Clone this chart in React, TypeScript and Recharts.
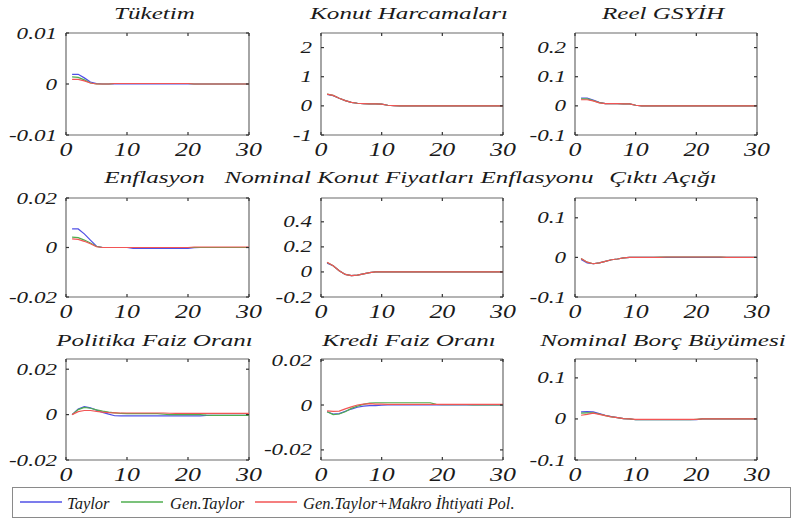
import React from 'react';
import { LineChart, Line, XAxis, YAxis, CartesianGrid } from 'recharts';

// ---------- data ----------
const periods = [1, 2, 3, 4, 5, 6, 7, 8, 9, 10, 11, 12, 13, 14, 15, 16, 17, 18, 19, 20, 21, 22, 23, 24, 25, 26, 27, 28, 29, 30];
const xTicks = [0, 10, 20, 30];
const seriesNames = ['Taylor', 'Gen.Taylor', 'Gen.Taylor+Makro İhtiyati Pol.'];
const seriesColors = ['#5050e6', '#4fae4f', '#f25555'];

const titles = [
  'Tüketim', 'Konut Harcamaları', 'Reel GSYİH',
  'Enflasyon', 'Nominal Konut Fiyatları Enflasyonu', 'Çıktı Açığı',
  'Politika Faiz Oranı', 'Kredi Faiz Oranı', 'Nominal Borç Büyümesi',
];

// Tüketim
const tuketimTaylor = [0.0019, 0.0019, 0.0012, 0.0004, 0.0001, 0, 0, 0, 0, 0, 0, 0, 0, 0, 0, 0, 0, 0, 0, 0, 0, 0, 0, 0, 0, 0, 0, 0, 0, 0];
const tuketimGen = [0.0014, 0.0013, 0.0008, 0.0002, 0, 0, 0, 0.0001, 0.0001, 0.0001, 0.0001, 0.0001, 0.0001, 0.0001, 0.0001, 0.0001, 0.0001, 0.0001, 0.0001, 0.0001, 0, 0, 0, 0, 0, 0, 0, 0, 0, 0];
const tuketimMakro = [0.0009, 0.0009, 0.0006, 0.0002, 0, 0, 0, 0.0001, 0.0001, 0.0001, 0.0001, 0.0001, 0.0001, 0.0001, 0.0001, 0.0001, 0.0001, 0.0001, 0.0001, 0.0001, 0, 0, 0, 0, 0, 0, 0, 0, 0, 0];

// Konut Harcamaları
const konutTaylor = [0.39, 0.35, 0.26, 0.18, 0.12, 0.09, 0.08, 0.07, 0.07, 0.06, 0.02, 0.01, 0, 0, 0, 0, 0, 0, 0, 0, 0, 0, 0, 0, 0, 0, 0, 0, 0, 0];
const konutGen = [0.4, 0.36, 0.26, 0.18, 0.12, 0.09, 0.08, 0.07, 0.07, 0.06, 0.02, 0.01, 0, 0, 0, 0, 0, 0, 0, 0, 0, 0, 0, 0, 0, 0, 0, 0, 0, 0];
const konutMakro = [0.4, 0.36, 0.26, 0.18, 0.12, 0.09, 0.08, 0.07, 0.07, 0.06, 0.02, 0.01, 0, 0, 0, 0, 0, 0, 0, 0, 0, 0, 0, 0, 0, 0, 0, 0, 0, 0];

// Reel GSYİH
const gsyihTaylor = [0.027, 0.027, 0.02, 0.012, 0.008, 0.008, 0.008, 0.007, 0.007, 0.002, 0, 0, 0, 0, 0, 0, 0, 0, 0, 0, 0, 0, 0, 0, 0, 0, 0, 0, 0, 0];
const gsyihGen = [0.024, 0.024, 0.018, 0.011, 0.008, 0.008, 0.008, 0.007, 0.007, 0.002, 0, 0, 0, 0, 0, 0, 0, 0, 0, 0, 0, 0, 0, 0, 0, 0, 0, 0, 0, 0];
const gsyihMakro = [0.021, 0.021, 0.017, 0.01, 0.008, 0.008, 0.008, 0.007, 0.007, 0.002, 0, 0, 0, 0, 0, 0, 0, 0, 0, 0, 0, 0, 0, 0, 0, 0, 0, 0, 0, 0];

// Enflasyon
const enfTaylor = [0.0075, 0.0075, 0.0055, 0.003, 0.0005, 0, 0, 0, 0, 0, -0.0004, -0.0004, -0.0004, -0.0004, -0.0004, -0.0004, -0.0004, -0.0004, -0.0004, -0.0004, -0.0001, 0, 0, 0, 0, 0, 0, 0, 0, 0];
const enfGen = [0.0042, 0.004, 0.003, 0.0018, 0.0004, 0, 0, 0, 0, 0, 0, 0, 0, 0, 0, 0, 0, 0, 0, 0, 0, 0, 0, 0, 0, 0, 0, 0, 0, 0];
const enfMakro = [0.0035, 0.0033, 0.0025, 0.0015, 0.0003, 0, 0, 0, 0, 0, 0, 0, 0, 0, 0, 0, 0, 0, 0, 0, 0.0002, 0.0002, 0.0002, 0.0002, 0.0002, 0.0002, 0.0002, 0.0002, 0.0002, 0.0002];

// Nominal Konut Fiyatları Enflasyonu
const nkfTaylor = [0.07, 0.05, 0.01, -0.02, -0.03, -0.025, -0.015, -0.005, 0, 0, 0, 0, 0, 0, 0, 0, 0, 0, 0, 0, 0, 0, 0, 0, 0, 0, 0, 0, 0, 0];
const nkfGen = [0.075, 0.05, 0.01, -0.02, -0.03, -0.025, -0.015, -0.005, 0, 0, 0, 0, 0, 0, 0, 0, 0, 0, 0, 0, 0, 0, 0, 0, 0, 0, 0, 0, 0, 0];
const nkfMakro = [0.077, 0.05, 0.01, -0.02, -0.03, -0.025, -0.015, -0.005, 0, 0, 0, 0, 0, 0, 0, 0, 0, 0, 0, 0, 0, 0, 0, 0, 0, 0, 0, 0, 0, 0];

// Çıktı Açığı
const ciktiTaylor = [-0.005, -0.014, -0.016, -0.014, -0.01, -0.006, -0.004, -0.001, 0, 0, 0, 0, 0, 0, 0, 0, 0, 0, 0, 0, 0, 0, 0, 0, 0, 0, 0, 0, 0, 0];
const ciktiGen = [-0.003, -0.012, -0.016, -0.014, -0.01, -0.006, -0.004, -0.001, 0, 0, 0, 0, 0, 0.001, 0.001, 0.001, 0.001, 0.001, 0.001, 0.001, 0.001, 0.001, 0.001, 0.001, 0, 0, 0, 0, 0, 0];
const ciktiMakro = [-0.003, -0.012, -0.016, -0.014, -0.01, -0.006, -0.004, -0.001, 0, 0, 0, 0, 0, 0, 0.001, 0.001, 0.001, 0.001, 0.001, 0.001, 0.001, 0.001, 0.001, 0.001, 0, 0, 0, 0, 0, 0];

// Politika Faiz Oranı
const polTaylor = [0, 0.0025, 0.0035, 0.003, 0.002, 0.001, 0.0002, -0.0005, -0.0006, -0.0006, -0.0006, -0.0006, -0.0006, -0.0006, -0.0006, -0.0006, -0.0006, -0.0006, -0.0006, -0.0006, -0.0006, -0.0006, -0.0003, -0.0003, -0.0003, -0.0003, -0.0003, -0.0003, -0.0003, -0.0003];
const polGen = [0, 0.0022, 0.0032, 0.0028, 0.0021, 0.0015, 0.0011, 0.0008, 0.0005, 0.0004, 0.0004, 0.0004, 0.0004, 0.0004, 0.0004, 0.0002, 0, 0, 0, 0, 0, 0, -0.0002, -0.0003, -0.0003, -0.0003, -0.0003, -0.0003, -0.0003, -0.0003];
const polMakro = [0, 0.0013, 0.0018, 0.0018, 0.0014, 0.0011, 0.0009, 0.0008, 0.0007, 0.0007, 0.0007, 0.0007, 0.0007, 0.0007, 0.0007, 0.0007, 0.0006, 0.0005, 0.0005, 0.0005, 0.0005, 0.0005, 0.0005, 0.0005, 0.0005, 0.0005, 0.0005, 0.0005, 0.0005, 0.0005];

// Kredi Faiz Oranı
const krediTaylor = [-0.003, -0.004, -0.0038, -0.0028, -0.0018, -0.001, -0.0005, -0.0003, -0.0003, -0.0001, 0, 0, 0, 0, 0, 0, 0, 0, 0, 0, 0, 0, 0, 0, 0, 0, 0, 0, 0, 0];
const krediGen = [-0.003, -0.0043, -0.004, -0.003, -0.0015, -0.0005, 0.0003, 0.0008, 0.001, 0.001, 0.001, 0.001, 0.001, 0.001, 0.001, 0.001, 0.001, 0.001, 0.0003, 0.0002, 0.0002, 0.0002, 0.0002, 0.0002, 0.0001, 0, 0, 0, 0, 0];
const krediMakro = [-0.0026, -0.0028, -0.0027, -0.0017, -0.0008, 0, 0.0004, 0.0006, 0.0004, 0.0004, 0.0003, 0.0003, 0.0003, 0.0003, 0.0003, 0.0003, 0.0003, 0.0003, 0.0003, 0.0003, 0.0003, 0.0003, 0.0003, 0.0003, 0.0003, 0.0003, 0.0003, 0.0003, 0.0003, 0.0003];

// Nominal Borç Büyümesi
const borcTaylor = [0.017, 0.018, 0.017, 0.013, 0.009, 0.006, 0.003, 0.001, 0, -0.002, -0.002, -0.002, -0.002, -0.002, -0.002, -0.002, -0.002, -0.002, -0.002, -0.002, 0, 0, 0, 0, 0, 0, 0, 0, 0, 0];
const borcGen = [0.014, 0.015, 0.015, 0.012, 0.008, 0.005, 0.003, 0.001, 0, -0.002, -0.002, -0.002, -0.002, -0.002, -0.002, -0.002, -0.002, -0.002, -0.002, -0.001, 0, 0, 0, 0, 0, 0, 0, 0, 0, 0];
const borcMakro = [0.009, 0.011, 0.014, 0.011, 0.008, 0.005, 0.003, 0.001, 0, -0.001, -0.001, -0.001, -0.001, -0.001, -0.001, -0.001, -0.001, -0.001, -0.001, -0.001, 0, 0, 0, 0, 0, 0, 0, 0, 0, 0];

// y axis scales and ticks
const yDomains: [number, number][] = [
  [-0.01, 0.01], [-1, 2.5], [-0.1, 0.25],
  [-0.02, 0.02], [-0.2, 0.59], [-0.1, 0.15],
  [-0.02, 0.0245], [-0.0245, 0.0205], [-0.1, 0.146],
];
const yTicksList = [
  [-0.01, 0, 0.01], [-1, 0, 1, 2], [-0.1, 0, 0.1, 0.2],
  [-0.02, 0, 0.02], [-0.2, 0, 0.2, 0.4], [-0.1, 0, 0.1],
  [-0.02, 0, 0.02], [-0.02, 0, 0.02], [-0.1, 0, 0.1],
];
const seriesPerPanel = [
  [tuketimTaylor, tuketimGen, tuketimMakro],
  [konutTaylor, konutGen, konutMakro],
  [gsyihTaylor, gsyihGen, gsyihMakro],
  [enfTaylor, enfGen, enfMakro],
  [nkfTaylor, nkfGen, nkfMakro],
  [ciktiTaylor, ciktiGen, ciktiMakro],
  [polTaylor, polGen, polMakro],
  [krediTaylor, krediGen, krediMakro],
  [borcTaylor, borcGen, borcMakro],
];

// ---------- layout (styling) ----------
const colLeft = [66, 321, 575];
const colWidth = [183, 182, 182];
const rowTop = [33, 198, 359];
const rowHeight = [102, 99, 101];
const titleBaseline = [18.5, 183, 346];
const FONT = "'Liberation Serif', 'Times New Roman', Times, serif";
const FRAME = '#6a6a6a';
const TEXT = '#1a1a1a';
const AX_L = 70;
const M_TOP = 10;
const M_RIGHT = 18;
const X_H = 30;

const txtStyle = (size: number): React.CSSProperties => ({
  fontFamily: FONT,
  fontStyle: 'italic',
  fontWeight: 'normal',
  fontSize: size,
});

const fmt = (v: number) => String(v);

function makeXTick(plotH: number) {
  return (props: any) => {
    const { x, y, payload } = props;
    return (
      <g>
        <line x1={x} x2={x} y1={y} y2={y - 3} stroke="#333" strokeWidth={1.2} />
        <line x1={x} x2={x} y1={y - plotH} y2={y - plotH + 3} stroke="#333" strokeWidth={1.2} />
        <text
          transform={`translate(${x},${y + 21}) scale(1.4,1)`}
          textAnchor="middle"
          style={txtStyle(18.5)}
          fill={TEXT}
        >
          {fmt(payload.value)}
        </text>
      </g>
    );
  };
}

function makeYTick(plotW: number) {
  return (props: any) => {
    const { x, y, payload } = props;
    return (
      <g>
        <line x1={x} x2={x + 3} y1={y} y2={y} stroke="#333" strokeWidth={1.2} />
        <line x1={x + plotW} x2={x + plotW - 3} y1={y} y2={y} stroke="#333" strokeWidth={1.2} />
        <text
          transform={`translate(${x - 9},${y + 5.5}) scale(1.4,1)`}
          textAnchor="end"
          style={txtStyle(16.5)}
          fill={TEXT}
        >
          {fmt(payload.value)}
        </text>
      </g>
    );
  };
}

function Panel({ idx }: { idx: number }) {
  const r = Math.floor(idx / 3);
  const c = idx % 3;
  const W = colWidth[c];
  const H = rowHeight[r];
  const series = seriesPerPanel[idx];
  const data = periods.map((t, i) => ({
    t,
    s0: series[0][i],
    s1: series[1][i],
    s2: series[2][i],
  }));
  return (
    <div
      style={{
        position: 'absolute',
        left: colLeft[c] - AX_L,
        top: rowTop[r] - M_TOP,
      }}
    >
      <LineChart
        width={W + AX_L + M_RIGHT}
        height={H + M_TOP + X_H}
        data={data}
        margin={{ top: M_TOP, right: M_RIGHT, bottom: 0, left: 0 }}
        style={{ overflow: 'visible' }}
      >
        <CartesianGrid
          horizontalPoints={[M_TOP, M_TOP + H]}
          verticalPoints={[AX_L, AX_L + W]}
          stroke={FRAME}
          strokeWidth={1.2}
          fill="none"
        />
        <XAxis
          dataKey="t"
          type="number"
          domain={[0, 30]}
          ticks={xTicks}
          allowDataOverflow
          height={X_H}
          axisLine={false}
          tickLine={false}
          tickSize={0}
          tickMargin={0}
          interval={0}
          tick={makeXTick(H)}
        />
        <YAxis
          type="number"
          domain={yDomains[idx]}
          ticks={yTicksList[idx]}
          allowDataOverflow
          width={AX_L}
          axisLine={false}
          tickLine={false}
          tickSize={0}
          tickMargin={0}
          interval={0}
          tick={makeYTick(W)}
        />
        {[0, 1, 2].map((k) => (
          <Line
            key={k}
            dataKey={`s${k}`}
            name={seriesNames[k]}
            stroke={seriesColors[k]}
            strokeWidth={1.2}
            dot={false}
            type="linear"
            isAnimationActive={false}
          />
        ))}
      </LineChart>
    </div>
  );
}

function Overlay() {
  const legendLineX = [20, 121, 255];
  const legendTextX = [67, 170, 303];
  return (
    <svg
      width={793}
      height={519}
      style={{ position: 'absolute', left: 0, top: 0, pointerEvents: 'none' }}
    >
      {titles.map((tt, i) => {
        const r = Math.floor(i / 3);
        const c = i % 3;
        const cx = colLeft[c] + colWidth[c] / 2 - 3;
        return (
          <text
            key={i}
            transform={`translate(${cx},${titleBaseline[r]}) scale(1.57,1)`}
            textAnchor="middle"
            style={txtStyle(16)}
            fill={TEXT}
          >
            {tt}
          </text>
        );
      })}
      <rect x={12.5} y={487.5} width={778} height={30} fill="#fff" stroke="#8a8a8a" strokeWidth={1} />
      {seriesNames.map((n, k) => (
        <g key={k}>
          <line
            x1={legendLineX[k]}
            x2={legendLineX[k] + 42}
            y1={502}
            y2={502}
            stroke={seriesColors[k]}
            strokeWidth={1.3}
          />
          <text x={legendTextX[k]} y={509} style={txtStyle(16.5)} fill={TEXT}>
            {n}
          </text>
        </g>
      ))}
    </svg>
  );
}

export default function App() {
  return (
    <div
      style={{
        position: 'absolute',
        left: 0,
        top: 0,
        width: 793,
        height: 519,
        background: '#fff',
        overflow: 'hidden',
        fontFamily: FONT,
      }}
    >
      {titles.map((_, i) => (
        <Panel key={i} idx={i} />
      ))}
      <Overlay />
    </div>
  );
}
